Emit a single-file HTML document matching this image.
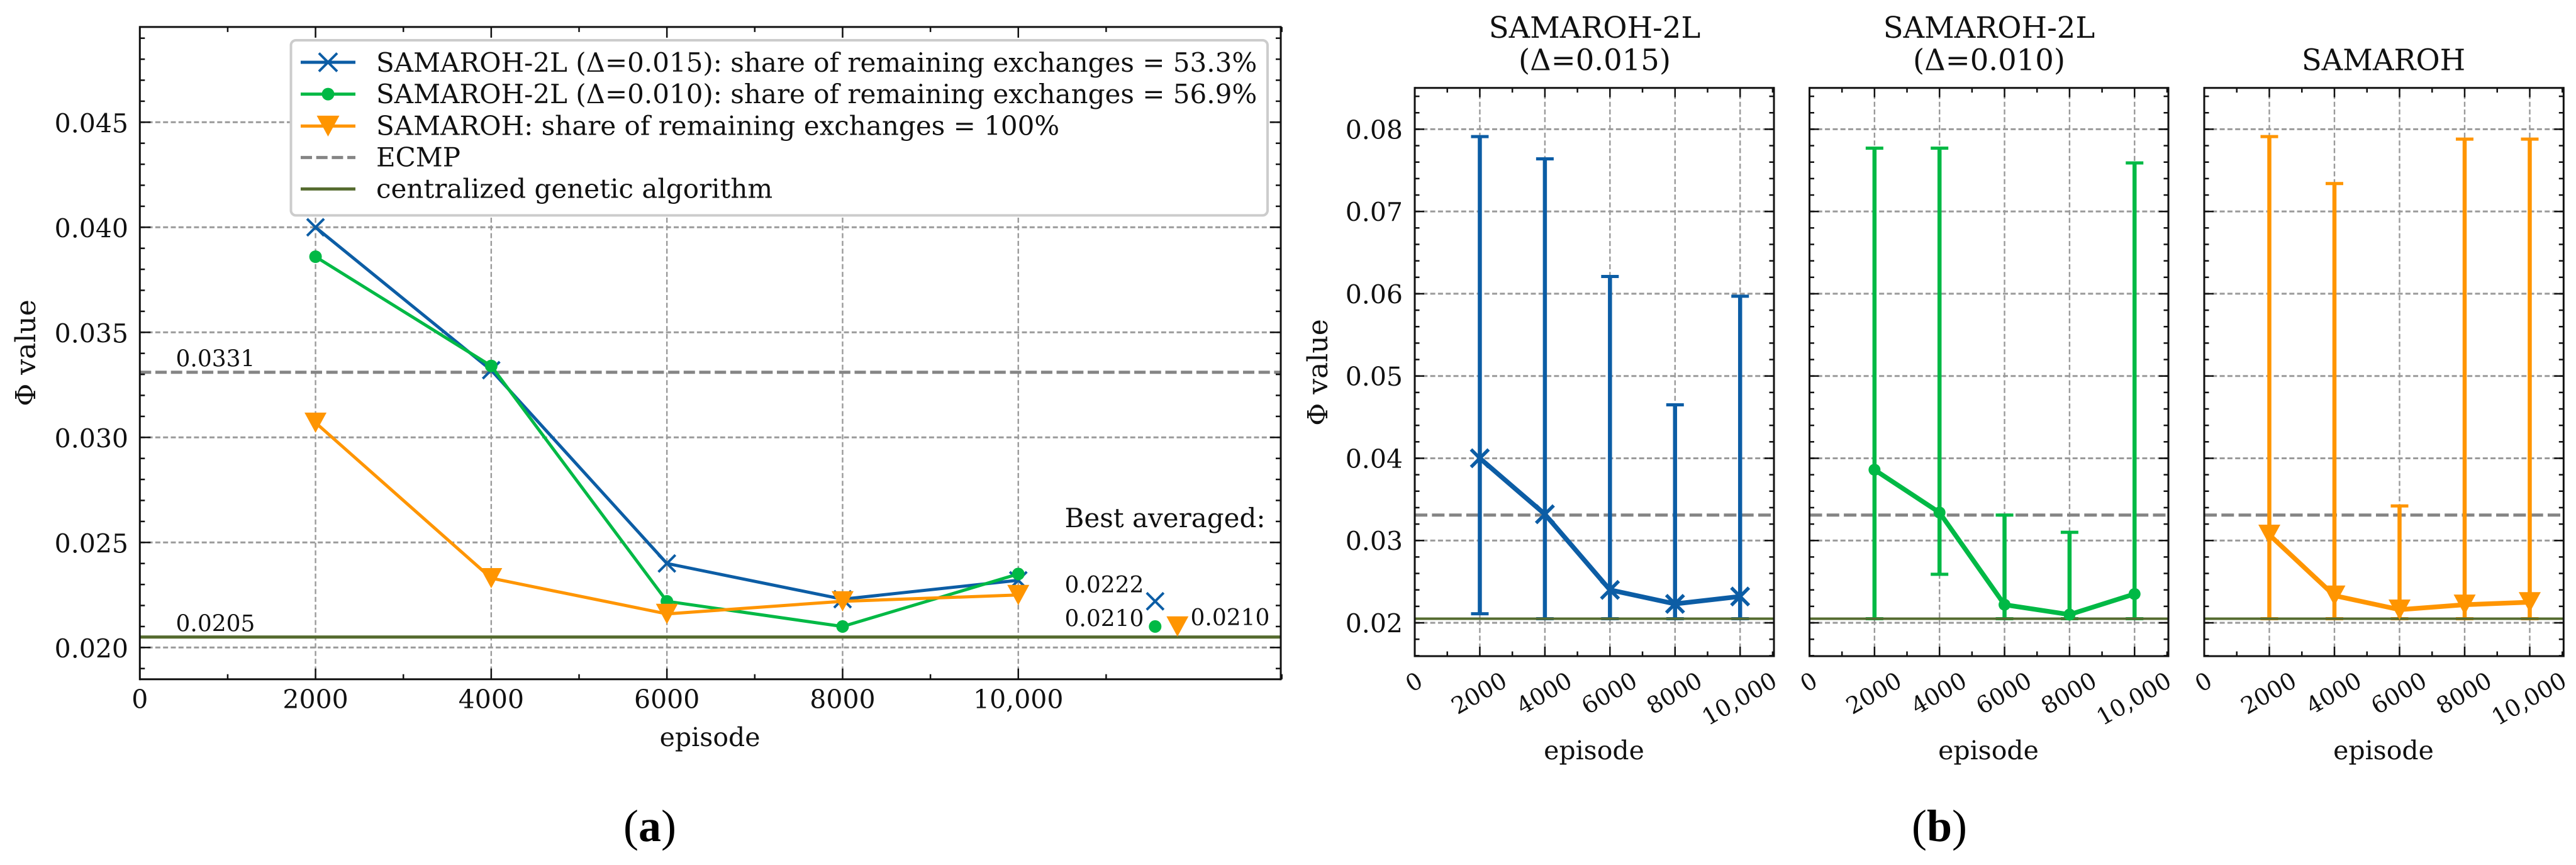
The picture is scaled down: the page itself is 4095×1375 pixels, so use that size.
<!DOCTYPE html>
<html lang="en">
<head>
<meta charset="utf-8">
<title>Phi value by episode</title>
<style>
html,body{margin:0;padding:0;background:#fff;}
svg{display:block;}
text{font-family:"DejaVu Serif","Liberation Serif",serif;fill:#111;}
.lab{font-family:"Liberation Serif",serif;font-size:72px;fill:#000;}
</style>
</head>
<body>
<svg id="figure" xmlns="http://www.w3.org/2000/svg" width="4095" height="1375" viewBox="0 0 4095 1375">
<rect width="4095" height="1375" fill="#fff"/>
<g id="panel-a"></g>
<g id="panel-b1"></g>
<g id="panel-b2"></g>
<g id="panel-b3"></g>

<g id="legend">
<rect x="462.5" y="64" width="1552.5" height="278.4" rx="8" fill="#fff" stroke="#cccccc" stroke-width="4"/>
<g id="legend-handles"></g>
<text x="598" y="114" font-size="42">SAMAROH-2L (Δ=0.015): share of remaining exchanges = 53.3%</text>
<text x="598" y="164" font-size="42">SAMAROH-2L (Δ=0.010): share of remaining exchanges = 56.9%</text>
<text x="598" y="214.3" font-size="42">SAMAROH: share of remaining exchanges = 100%</text>
<text x="598" y="264.3" font-size="42">ECMP</text>
<text x="598" y="314.7" font-size="42">centralized genetic algorithm</text>
</g>

<text x="279.5" y="582.6" font-size="36">0.0331</text>
<text x="279.5" y="1003.5" font-size="36">0.0205</text>
<text x="1692.5" y="838" font-size="42">Best averaged:</text>
<text x="1692.5" y="942" font-size="36">0.0222</text>
<text x="1692.5" y="995.3" font-size="36">0.0210</text>
<text x="1892.5" y="994" font-size="36">0.0210</text>

<text x="1128.6" y="1186" font-size="41" text-anchor="middle">episode</text>
<text transform="translate(56,561) rotate(-90)" font-size="44" text-anchor="middle">Φ value</text>
<text class="lab" x="1033" y="1337" text-anchor="middle">(<tspan font-weight="bold">a</tspan>)</text>

<text transform="translate(2110,592) rotate(-90)" font-size="44" text-anchor="middle">Φ value</text>
<text x="2535" y="60" font-size="46.5" text-anchor="middle">SAMAROH-2L</text>
<text x="2535" y="111.6" font-size="46.5" text-anchor="middle">(Δ=0.015)</text>
<text x="3162" y="60" font-size="46.5" text-anchor="middle">SAMAROH-2L</text>
<text x="3162" y="111.6" font-size="46.5" text-anchor="middle">(Δ=0.010)</text>
<text x="3789" y="111.6" font-size="46.5" text-anchor="middle">SAMAROH</text>
<text x="2534" y="1207" font-size="41" text-anchor="middle">episode</text>
<text x="3161" y="1207" font-size="41" text-anchor="middle">episode</text>
<text x="3789" y="1207" font-size="41" text-anchor="middle">episode</text>
<text class="lab" x="3083" y="1337" text-anchor="middle">(<tspan font-weight="bold">b</tspan>)</text>
</svg>

<script>
// ---- chart data ----
const episodes = [2000, 4000, 6000, 8000, 10000];
const meanDelta015 = [0.0400, 0.0332, 0.0240, 0.0223, 0.0232];
const meanDelta010 = [0.0386, 0.0334, 0.0222, 0.0210, 0.0235];
const meanSamaroh = [0.0307, 0.0233, 0.0216, 0.0222, 0.0225];
const upperDelta015 = [0.0791, 0.0764, 0.0621, 0.0465, 0.0597];
const lowerDelta015 = [0.0211, 0.0205, 0.0205, 0.0205, 0.0205];
const upperDelta010 = [0.0777, 0.0777, 0.0331, 0.0310, 0.0759];
const lowerDelta010 = [0.0205, 0.0259, 0.0205, 0.0205, 0.0205];
const upperSamaroh = [0.0791, 0.0734, 0.0342, 0.0788, 0.0788];
const lowerSamaroh = [0.0205, 0.0205, 0.0205, 0.0205, 0.0205];
const ecmpValue = 0.0331;
const geneticValue = 0.0205;
const bestEpisodes = [11558, 11558, 11812];
const bestValues = [0.0222, 0.0210, 0.0210];
const xTicks = [0, 2000, 4000, 6000, 8000, 10000];
const xTickLabels = ['0', '2000', '4000', '6000', '8000', '10,000'];
const aYTicks = [0.020, 0.025, 0.030, 0.035, 0.040, 0.045];
const aYTickLabels = ['0.020', '0.025', '0.030', '0.035', '0.040', '0.045'];
const bYTicks = [0.02, 0.03, 0.04, 0.05, 0.06, 0.07, 0.08];
const bYTickLabels = ['0.02', '0.03', '0.04', '0.05', '0.06', '0.07', '0.08'];
const blue = '#0C5DA5', green = '#00B945', orange = '#FF9500';
const gridGray = '#9a9a9a', ecmpGray = '#858585', olive = '#556B2F';

const NS = 'http://www.w3.org/2000/svg';
function mk(parent, tag, attrs) {
  const el = document.createElementNS(NS, tag);
  for (const k in attrs) el.setAttribute(k, attrs[k]);
  parent.appendChild(el);
  return el;
}
function scale(d0, d1, r0, r1) {
  return v => r0 + (v - d0) * (r1 - r0) / (d1 - d0);
}
function hLine(parent, x0, x1, y, color, width, dash, name) {
  const el = mk(parent, 'line', {x1: x0, x2: x1, y1: y, y2: y, stroke: color, 'stroke-width': width});
  if (dash) el.setAttribute('stroke-dasharray', dash);
  
  
  return el;
}
function vLine(parent, x, y0, y1, color, width, dash, name) {
  const el = mk(parent, 'line', {x1: x, x2: x, y1: y0, y2: y1, stroke: color, 'stroke-width': width});
  if (dash) el.setAttribute('stroke-dasharray', dash);
  
  
  return el;
}
function drawMarker(parent, kind, cx, cy, color, size, width, name) {
  let el;
  if (kind === 'x') {
    const s = size / 2;
    el = mk(parent, 'path', {d: `M${cx - s} ${cy - s}L${cx + s} ${cy + s}M${cx - s} ${cy + s}L${cx + s} ${cy - s}`, stroke: color, 'stroke-width': width, fill: 'none'});
  } else if (kind === 'o') {
    el = mk(parent, 'circle', {cx: cx, cy: cy, r: size / 2, fill: color});
  } else {
    const s = size / 2;
    el = mk(parent, 'path', {d: `M${cx - s} ${cy - s * 0.92}L${cx + s} ${cy - s * 0.92}L${cx} ${cy + s * 0.92}Z`, fill: color});
  }
  
  
  return el;
}
function range(start, stop, step) {
  const out = [];
  const n = Math.round((stop - start) / step);
  for (let i = 0; i <= n; i++) out.push(start + i * step);
  return out;
}
function drawFrame(g, box, sx, sy, yTicks, yMinorStep, yMinorStart, yMinorStop, major, minor) {
  hLine(g, box.l, box.r, box.t, '#111', 3, null, 'spine-top');
  hLine(g, box.l, box.r, box.b, '#111', 3, null, 'spine-bottom');
  vLine(g, box.l, box.t - 1.5, box.b + 1.5, '#111', 3, null, 'spine-left');
  vLine(g, box.r, box.t - 1.5, box.b + 1.5, '#111', 3, null, 'spine-right');
  xTicks.forEach(v => {
    vLine(g, sx(v), box.b, box.b - major, '#111', 2.5, null, 'x-major-tick-bottom');
    vLine(g, sx(v), box.t, box.t + major, '#111', 2.5, null, 'x-major-tick-top');
  });
  const xMax = sx.max;
  range(1000, xMax, 2000).forEach(v => {
    vLine(g, sx(v), box.b, box.b - minor, '#111', 2.5, null, 'x-minor-tick-bottom');
    vLine(g, sx(v), box.t, box.t + minor, '#111', 2.5, null, 'x-minor-tick-top');
  });
  yTicks.forEach(v => {
    hLine(g, box.l, box.l + major, sy(v), '#111', 2.5, null, 'y-major-tick-left');
    hLine(g, box.r, box.r - major, sy(v), '#111', 2.5, null, 'y-major-tick-right');
  });
  range(yMinorStart, yMinorStop, yMinorStep).forEach(v => {
    hLine(g, box.l, box.l + minor, sy(v), '#111', 2.5, null, 'y-minor-tick-left');
    hLine(g, box.r, box.r - minor, sy(v), '#111', 2.5, null, 'y-minor-tick-right');
  });
}
function drawGrid(g, box, sx, sy, yTicks) {
  xTicks.slice(1).forEach(v => vLine(g, sx(v), box.b, box.t, gridGray, 2.4, '8 4.3', 'grid-line-x'));
  yTicks.forEach(v => hLine(g, box.l, box.r, sy(v), gridGray, 3, '8 4.3', 'grid-line-y'));
}

// ---- panel (a) ----
(function () {
  const g = document.getElementById('panel-a');
  const box = {l: 222.3, r: 2036, t: 42.9, b: 1079.7};
  const sx = scale(0, 12988, box.l, box.r);
  sx.max = 12000;
  const sy = scale(0.02, 0.025, 1029.3, 862.3);
  drawGrid(g, box, sx, sy, aYTicks);
  hLine(g, box.l, box.r, sy(ecmpValue), ecmpGray, 5, '18 6.7', 'ecmp-line');
  hLine(g, box.l, box.r, sy(geneticValue), olive, 5, null, 'genetic-algorithm-line');
  const series = [
    {name: 'delta-015', vals: meanDelta015, color: blue, kind: 'x', size: 27, w: 4},
    {name: 'delta-010', vals: meanDelta010, color: green, kind: 'o', size: 20, w: 0},
    {name: 'samaroh', vals: meanSamaroh, color: orange, kind: 'v', size: 35, w: 0}
  ];
  series.forEach(s => {
    const pts = s.vals.map((v, i) => sx(episodes[i]) + ',' + sy(v)).join(' ');
    const line = mk(g, 'polyline', {points: pts, fill: 'none', stroke: s.color, 'stroke-width': 5, 'stroke-linejoin': 'round'});
    
    
    s.vals.forEach((v, i) => drawMarker(g, s.kind, sx(episodes[i]), sy(v), s.color, s.size, s.w, 'point-' + s.name + '-' + episodes[i]));
  });
  series.forEach((s, i) => drawMarker(g, s.kind, sx(bestEpisodes[i]), sy(bestValues[i]), s.color, s.size, s.w, 'best-point-' + s.name));
  drawFrame(g, box, sx, sy, aYTicks, 0.001, 0.019, 0.049, 17, 8);
  xTicks.forEach((v, i) => {
    const t = mk(g, 'text', {x: sx(v), y: 1126, 'font-size': 41, 'text-anchor': 'middle'});
    t.textContent = xTickLabels[i];
    
    
  });
  aYTicks.forEach((v, i) => {
    const t = mk(g, 'text', {x: 204, y: sy(v) + 16, 'font-size': 41, 'text-anchor': 'end'});
    t.textContent = aYTickLabels[i];
    
    
  });
})();

// ---- legend handles ----
(function () {
  const g = document.getElementById('legend-handles');
  const rows = [
    {y: 99, color: blue, kind: 'x', size: 29, w: 4, name: 'delta-015'},
    {y: 149.6, color: green, kind: 'o', size: 20, w: 0, name: 'delta-010'},
    {y: 200.4, color: orange, kind: 'v', size: 36, w: 0, name: 'samaroh'}
  ];
  rows.forEach(r => {
    hLine(g, 478, 565, r.y, r.color, 5, null, 'legend-line-' + r.name);
    drawMarker(g, r.kind, 521.5, r.y, r.color, r.size, r.w, 'legend-marker-' + r.name);
  });
  hLine(g, 478, 565, 250.4, ecmpGray, 5, '18 6.7', 'legend-line-ecmp');
  hLine(g, 478, 565, 300.4, olive, 5, null, 'legend-line-genetic');
})();

// ---- panel (b) ----
function drawSmall(id, left, right, mean, upper, lower, color, kind, size, markerW, showYLabels) {
  const g = document.getElementById(id);
  const box = {l: left, r: right, t: 139.7, b: 1043};
  const sx = scale(0, 11040, box.l, box.r);
  sx.max = 11000;
  const sy = scale(0.02, 0.08, 990, 205.4);
  drawGrid(g, box, sx, sy, bYTicks);
  hLine(g, box.l, box.r, sy(ecmpValue), ecmpGray, 5, '20 7.3', 'ecmp-line');
  episodes.forEach((ep, i) => {
    const x = sx(ep);
    vLine(g, x, sy(lower[i]), sy(upper[i]), color, 6.5, null, 'error-bar-' + ep);
    hLine(g, x - 14, x + 14, sy(upper[i]), color, 5, null, 'error-cap-upper-' + ep);
    hLine(g, x - 14, x + 14, sy(lower[i]), color, 5, null, 'error-cap-lower-' + ep);
  });
  hLine(g, box.l, box.r, sy(geneticValue), olive, 4, null, 'genetic-algorithm-line');
  const pts = mean.map((v, i) => sx(episodes[i]) + ',' + sy(v)).join(' ');
  const line = mk(g, 'polyline', {points: pts, fill: 'none', stroke: color, 'stroke-width': 7.5, 'stroke-linejoin': 'round'});
  
  
  mean.forEach((v, i) => drawMarker(g, kind, sx(episodes[i]), sy(v), color, size, markerW, 'mean-point-' + episodes[i]));
  drawFrame(g, box, sx, sy, bYTicks, 0.002, 0.016, 0.084, 15, 7.5);
  xTicks.forEach((v, i) => {
    const cx = sx(v) - 1.5;
    const t = mk(g, 'text', {x: cx, y: 0, 'font-size': 37, 'text-anchor': 'middle'});
    t.textContent = xTickLabels[i];
    
    
    const w = t.getComputedTextLength();
    const cy = 1066 + (0.5 * w + 0.866 * 27) / 2;
    t.setAttribute('y', cy + 13.5);
    t.setAttribute('transform', `rotate(-30 ${cx} ${cy})`);
  });
  if (showYLabels) {
    bYTicks.forEach((v, i) => {
      const t = mk(g, 'text', {x: 2230, y: sy(v) + 15.5, 'font-size': 41, 'text-anchor': 'end'});
      t.textContent = bYTickLabels[i];
      
      
    });
  }
}
drawSmall('panel-b1', 2249, 2820, meanDelta015, upperDelta015, lowerDelta015, blue, 'x', 28, 5.5, true);
drawSmall('panel-b2', 2876.5, 3447, meanDelta010, upperDelta010, lowerDelta010, green, 'o', 19, 0, false);
drawSmall('panel-b3', 3504, 4075.3, meanSamaroh, upperSamaroh, lowerSamaroh, orange, 'v', 35, 0, false);
</script>
</body>
</html>
